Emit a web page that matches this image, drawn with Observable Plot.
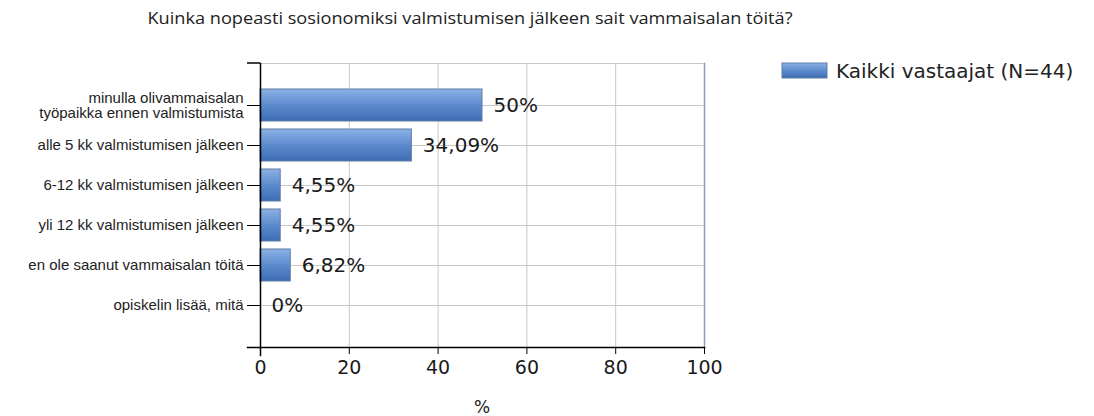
<!DOCTYPE html>
<html><head><meta charset="utf-8">
<script src="https://cdn.jsdelivr.net/npm/d3@7"></script>
<script src="https://cdn.jsdelivr.net/npm/@observablehq/plot@0.6"></script>
<style>body{margin:0;background:#fff}#c{position:relative;width:1094px;height:416px}</style>
</head><body><div id="c"></div>
<script>
const title = "Kuinka nopeasti sosionomiksi valmistumisen jälkeen sait vammaisalan töitä?";
const seriesName = "Kaikki vastaajat (N=44)";
const categories = [
  "minulla olivammaisalan\ntyöpaikka ennen valmistumista",
  "alle 5 kk valmistumisen jälkeen",
  "6-12 kk valmistumisen jälkeen",
  "yli 12 kk valmistumisen jälkeen",
  "en ole saanut vammaisalan töitä",
  "opiskelin lisää, mitä"
];
const values = [50, 34.09, 4.55, 4.55, 6.82, 0];
const valueLabels = ["50%", "34,09%", "4,55%", "4,55%", "6,82%", "0%"];
const xTicks = [0, 20, 40, 60, 80, 100];
const xLabel = "%";

const data = categories.map((c, i) => ({cat: c, value: values[i], label: valueLabels[i]}));

const plot = Plot.plot({
  width: 1094, height: 416,
  marginLeft: 260, marginRight: 390, marginTop: 63, marginBottom: 69,
  style: {fontFamily: "Liberation Sans", background: "#fff"},
  x: {domain: [0, 100], ticks: xTicks},
  y: {domain: categories, paddingInner: 0.2, paddingOuter: 0.6},
  marks: [
    Plot.frame({anchor: "top", stroke: "#c8c8c8"}),
    Plot.frame({anchor: "right", stroke: "#8c9fb5", strokeWidth: 1.5}),
    Plot.ruleX(xTicks.slice(1, -1), {stroke: "#c8c8c8"}),
    Plot.ruleY(categories, {y: d => d, stroke: "#c8c8c8"}),
    Plot.barX(data, {x: "value", y: "cat", fill: "url(#barGrad)", stroke: "#5f7ea6", strokeWidth: 1}),
    Plot.text(data, {x: "value", y: "cat", text: "label", textAnchor: "start", dx: 11, fontSize: 20, fontFamily: "DejaVu Sans", fill: "#1a1a1a"}),
    Plot.axisY({tickSize: 13, tickPadding: 4, fontSize: 15, lineHeight: 1, fill: "#222", stroke: "#000", label: null}),
    Plot.axisX({ticks: xTicks, tickSize: 7, tickPadding: 6, fontSize: 19, fontFamily: "DejaVu Sans", fill: "#1a1a1a", label: null}),
    Plot.frame({anchor: "left", stroke: "#000", strokeWidth: 1.5, insetBottom: -8}),
    Plot.frame({anchor: "bottom", stroke: "#000", strokeWidth: 1.5, insetLeft: -13})
  ]
});

const svg = d3.select(plot);
const defs = svg.insert("defs", ":first-child");
const g = defs.append("linearGradient").attr("id", "barGrad").attr("x1", 0).attr("y1", 0).attr("x2", 0).attr("y2", 1);
g.append("stop").attr("offset", "0%").attr("stop-color", "#8cb2e6");
g.append("stop").attr("offset", "50%").attr("stop-color", "#5c8bce");
g.append("stop").attr("offset", "100%").attr("stop-color", "#3d6cb3");

const xs = plot.scale("x");
const x0 = xs.apply(0), x100 = xs.apply(100);
svg.append("line").attr("x1", x0 - 13).attr("x2", x0).attr("y1", 63).attr("y2", 63).attr("stroke", "#000").attr("stroke-width", 1.5);
svg.append("text").attr("x", (x0 + x100) / 2).attr("y", 413).attr("text-anchor", "middle")
  .attr("font-family", "DejaVu Sans").attr("font-size", 17).attr("fill", "#1a1a1a").text(xLabel);
svg.append("text").attr("x", 470).attr("y", 24).attr("text-anchor", "middle")
  .attr("font-family", "Open Sans").attr("font-size", 17).attr("fill", "#222")
  .attr("textLength", 645).attr("lengthAdjust", "spacingAndGlyphs").text(title);
svg.append("rect").attr("x", 782).attr("y", 63).attr("width", 45).attr("height", 15)
  .attr("fill", "url(#barGrad)").attr("stroke", "#5f7ea6");
svg.append("text").attr("x", 836).attr("y", 78).attr("text-anchor", "start").attr("font-family", "DejaVu Sans").attr("font-size", 20)
  .attr("fill", "#222").text(seriesName);

document.getElementById("c").append(plot);
</script></body></html>
